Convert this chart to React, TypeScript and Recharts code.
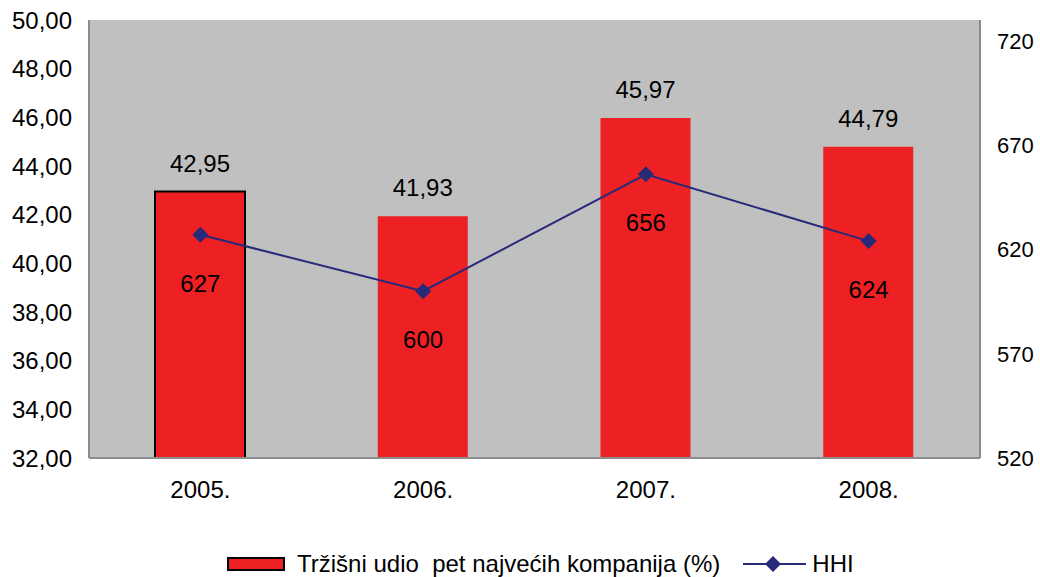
import {
  ComposedChart,
  Bar,
  Line,
  XAxis,
  YAxis,
  CartesianGrid,
  Legend,
  LabelList,
  Cell,
} from 'recharts';

const years = ['2005.', '2006.', '2007.', '2008.'];
const marketShare = [42.95, 41.93, 45.97, 44.79];
const hhi = [627, 600, 656, 624];
const shareTicks = [32, 34, 36, 38, 40, 42, 44, 46, 48, 50];
const hhiTicks = [520, 570, 620, 670, 720];

const data = years.map((year, i) => ({
  year,
  share: marketShare[i],
  hhi: hhi[i],
}));

const FONT = '"Liberation Sans", Arial, sans-serif';
const RED = '#ed2024';
const NAVY = '#262a78';
const BORDER = '#8c8c8c';

const comma = (v: number) => v.toFixed(2).replace('.', ',');

function Diamond(props: any) {
  const { cx, cy } = props;
  if (cx == null || cy == null) return null;
  const r = 8;
  return (
    <path
      d={`M${cx},${cy - r}L${cx + r},${cy}L${cx},${cy + r}L${cx - r},${cy}Z`}
      fill={NAVY}
    />
  );
}

function LegendContent() {
  return (
    <div
      style={{
        display: 'flex',
        alignItems: 'center',
        height: 26,
        fontFamily: FONT,
        fontSize: 24,
        color: '#000',
        whiteSpace: 'nowrap',
      }}
    >
      <span
        style={{
          display: 'inline-block',
          boxSizing: 'border-box',
          width: 58,
          height: 14,
          background: RED,
          border: '2px solid #000',
          marginRight: 12,
        }}
      />
      <span>Tržišni udio&nbsp; pet najvećih kompanija (%)</span>
      <svg width={63} height={20} style={{ marginLeft: 23, marginRight: 6 }}>
        <line x1={0} y1={10} x2={63} y2={10} stroke={NAVY} strokeWidth={2} />
        <path d="M30,2L38,10L30,18L22,10Z" fill={NAVY} />
      </svg>
      <span>HHI</span>
    </div>
  );
}

export default function App() {
  return (
    <div style={{ width: 1040, height: 577, background: '#fff' }}>
      <style>{`body{margin:0}`}</style>
      <ComposedChart
        width={1040}
        height={577}
        data={data}
        margin={{ top: 20, right: 0, bottom: 0, left: 0 }}
        style={{ fontFamily: FONT }}
      >
        <CartesianGrid
          horizontal={false}
          vertical={false}
          fill="#c0c0c0"
          fillOpacity={1}
        />
        <XAxis
          dataKey="year"
          height={93}
          axisLine={{ stroke: BORDER, strokeWidth: 2 }}
          tickLine={false}
          tickMargin={17}
          tick={{ fill: '#000', fontSize: 24 }}
        />
        <XAxis
          xAxisId="top"
          dataKey="year"
          orientation="top"
          height={0}
          tick={false}
          tickLine={false}
          axisLine={{ stroke: BORDER, strokeWidth: 2 }}
        />
        <YAxis
          yAxisId="share"
          width={89}
          domain={[32, 50]}
          ticks={shareTicks}
          allowDataOverflow
          tickFormatter={comma}
          axisLine={{ stroke: BORDER, strokeWidth: 2 }}
          tickLine={false}
          tickMargin={11}
          tick={{ fill: '#000', fontSize: 24 }}
        />
        <YAxis
          yAxisId="hhi"
          orientation="right"
          width={60}
          domain={[520, 730]}
          ticks={hhiTicks}
          allowDataOverflow
          axisLine={{ stroke: BORDER, strokeWidth: 2 }}
          tickLine={false}
          tickMargin={11}
          tick={{ fill: '#000', fontSize: 22 }}
        />
        <Legend
          verticalAlign="bottom"
          content={() => <LegendContent />}
          wrapperStyle={{ left: 227, width: 'auto' }}
        />
        <Bar
          yAxisId="share"
          dataKey="share"
          fill={RED}
          barSize={90}
          isAnimationActive={false}
        >
          {data.map((_, i) => (
            <Cell
              key={i}
              fill={RED}
              stroke={i === 0 ? '#000' : 'none'}
              strokeWidth={i === 0 ? 2 : 0}
            />
          ))}
          <LabelList
            dataKey="share"
            position="top"
            offset={20}
            formatter={(v: any) => comma(Number(v))}
            fill="#000"
            fontSize={24}
          />
        </Bar>
        <Line
          yAxisId="hhi"
          type="linear"
          dataKey="hhi"
          stroke={NAVY}
          strokeWidth={2}
          dot={<Diamond />}
          activeDot={false}
          isAnimationActive={false}
        >
          <LabelList
            dataKey="hhi"
            position="bottom"
            offset={40}
            fill="#000"
            fontSize={24}
          />
        </Line>
      </ComposedChart>
    </div>
  );
}
